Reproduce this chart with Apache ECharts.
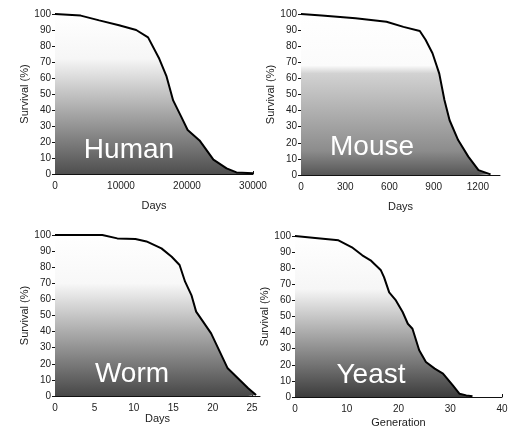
<!DOCTYPE html>
<html>
<head>
<meta charset="utf-8">
<script src="https://cdn.jsdelivr.net/npm/echarts@6/dist/echarts.min.js"></script>
<style>
  html, body { margin: 0; padding: 0; background: #fff; }
  #main { width: 511px; height: 431px; }
</style>
</head>
<body>
<div id="main"></div>
<script>
// survival curves
const humanDays = [0, 3900, 6700, 9700, 12300, 14100, 15800, 16900, 17900, 19100, 20100, 21900, 24000, 26000, 27500, 30000]
const humanSurv = [100, 99, 96, 93, 90, 85.4, 72, 61, 46, 36, 27.5, 21, 9, 3.5, 1, 0.5]

const mouseDays = [0, 140, 370, 580, 695, 806, 845, 892, 938, 973, 1008, 1066, 1135, 1204, 1286]
const mouseSurv = [100, 99, 97.3, 95.2, 92, 89.4, 84, 75.6, 63, 46.6, 34, 21.7, 11.4, 3, 0.4]

const wormDays = [0, 3.4, 6, 7.9, 10.2, 11.6, 13.5, 14.8, 15.8, 16.5, 17.3, 17.9, 18.8, 19.8, 20.7, 21.9, 23.2, 24.5, 25.5]
const wormSurv = [100, 100, 100, 97.9, 97.5, 96, 91.7, 86.5, 81.4, 71, 62.7, 52.4, 46, 38.9, 29.6, 17.2, 11, 4.8, 0.6]

const yeastGen = [0, 3.9, 8.4, 11, 13, 14.6, 16.6, 17.2, 18.2, 19.5, 20.8, 21.8, 22.7, 24, 25.3, 27, 28.6, 30.5, 31.8, 33.1, 34.3]
const yeastSurv = [100, 98.8, 97.3, 93, 88, 84.9, 78.7, 74.5, 65, 60, 52.8, 45.5, 42.4, 29, 21.7, 17.6, 14.5, 7.2, 2, 1, 0.4]

const panelNames = ['Human', 'Mouse', 'Worm', 'Yeast']
const xNames = ['Days', 'Days', 'Days', 'Generation']
const xMax = [30000, 1350, 26, 40]
const xStep = [10000, 300, 5, 10]

const font = "'Liberation Sans Narrow', 'Arial Narrow', 'Liberation Sans', sans-serif"

const grids = [
  { left: 55, top: 14, width: 198, height: 160 },
  { left: 301, top: 14, width: 199, height: 161 },
  { left: 55, top: 235, width: 205, height: 161 },
  { left: 295, top: 236, width: 207, height: 161 }
]
const nameGaps = [26, 26, 16, 20]

function pairs(xs, ys) {
  return xs.map((x, i) => [x, ys[i]])
}

function grad(stops) {
  return new echarts.graphic.LinearGradient(0, 0, 0, 1, stops.map(s => ({ offset: s[0], color: s[1] })))
}

const fills = [
  grad([[0, '#ffffff'], [0.28, '#f6f6f6'], [1, '#4e4e4e']]),
  grad([[0, '#ffffff'], [0.32, '#fbfbfb'], [0.37, '#d2d2d2'], [0.85, '#8c8c8c'], [1, '#565656']]),
  grad([[0, '#ffffff'], [0.3, '#f8f8f8'], [1, '#474747']]),
  grad([[0, '#ffffff'], [0.33, '#f6f6f6'], [1, '#3c3c3c']])
]

const seriesData = [
  pairs(humanDays, humanSurv),
  pairs(mouseDays, mouseSurv),
  pairs(wormDays, wormSurv),
  pairs(yeastGen, yeastSurv)
]

const labelPos = [[129, 150], [372, 147], [132, 374], [371, 375]]

const chart = echarts.init(document.getElementById('main'))
const option = {
  animation: false,
  backgroundColor: '#fff',
  grid: grids,
  xAxis: grids.map((g, i) => ({
    type: 'value',
    gridIndex: i,
    min: 0,
    max: xMax[i],
    interval: xStep[i],
    name: xNames[i],
    nameLocation: 'middle',
    nameGap: nameGaps[i],
    nameTextStyle: { color: '#222', fontSize: 11, fontFamily: font },
    axisLine: { lineStyle: { color: '#111', width: 1 } },
    axisTick: { show: true, inside: true, length: 3, lineStyle: { color: '#111' } },
    axisLabel: {
      color: '#222', fontSize: 10, fontFamily: font, margin: 7,
      showMaxLabel: xMax[i] % xStep[i] === 0,
      formatter: v => String(v)
    },
    splitLine: { show: false }
  })),
  yAxis: grids.map((g, i) => ({
    type: 'value',
    gridIndex: i,
    min: 0,
    max: 100,
    interval: 10,
    name: 'Survival (%)',
    nameLocation: 'middle',
    nameGap: 25,
    nameTextStyle: { color: '#222', fontSize: 11, fontFamily: font },
    axisLine: { show: true, lineStyle: { color: '#111', width: 1 } },
    axisTick: { show: true, length: 3, lineStyle: { color: '#111' } },
    axisLabel: { color: '#222', fontSize: 10, fontFamily: font, margin: 4 },
    splitLine: { show: false }
  })),
  series: seriesData.map((d, i) => ({
    name: panelNames[i],
    type: 'line',
    xAxisIndex: i,
    yAxisIndex: i,
    data: d,
    showSymbol: false,
    lineStyle: { color: '#000', width: 2 },
    areaStyle: { color: fills[i], opacity: 1 }
  })),
  graphic: panelNames.map((t, i) => ({
    type: 'text',
    x: labelPos[i][0],
    y: labelPos[i][1],
    z: 100,
    style: {
      text: t,
      fill: '#fff',
      fontSize: 28,
      fontFamily: font,
      align: 'center',
      verticalAlign: 'middle'
    }
  }))
}
chart.setOption(option)
</script>
</body>
</html>
